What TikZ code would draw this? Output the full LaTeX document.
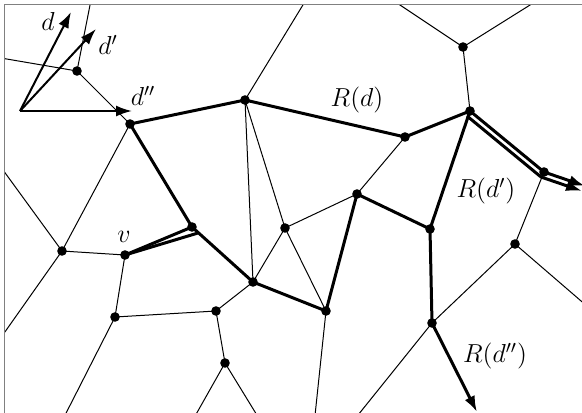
\RequirePackage{fix-cm}
\documentclass[tikz,border=0pt]{standalone}
\usetikzlibrary{arrows.meta}
\begin{document}
\begin{tikzpicture}[x=0.5pt,y=-0.5pt,font=\fontsize{13}{15}\selectfont,
  edge/.style={line width=0.5pt},
  pathline/.style={line width=1.5pt,line join=round},
  vec/.style={line width=1pt,-{Latex[length=8pt,width=5.5pt]}},
  rayarrow/.style={-{Latex[length=8pt,width=5.5pt]}},
  vert/.style={circle,fill,inner sep=0pt,minimum size=4.8pt},
  lbl/.style={inner sep=0pt}]
\useasboundingbox (0,0) rectangle (582,412);
\begin{scope}
\clip (4.5,4.5) rectangle (600,430);
% vertices
\node[vert] (A) at (77,71) {};
\node[vert] (B) at (130,124) {};
\node[vert] (C) at (245,100) {};
\node[vert] (D) at (463,47) {};
\node[vert] (E) at (470,111) {};
\node[vert] (F) at (405,137) {};
\node[vert] (G) at (544,172) {};
\node[vert] (H) at (430,229) {};
\node[vert] (I) at (515,244) {};
\node[vert] (J) at (432,323) {};
\node[vert] (K) at (192,227) {};
\node[vert] (V) at (125,255) {};
\node[vert] (L) at (62,251) {};
\node[vert] (M) at (285,228) {};
\node[vert] (N) at (357,194) {};
\node[vert] (O) at (253,282) {};
\node[vert] (P) at (326,311) {};
\node[vert] (Q) at (216,311) {};
\node[vert] (S) at (115,317) {};
\node[vert] (T) at (225,363) {};
% free ends
\coordinate (At) at (92,-5);
\coordinate (Al) at (-5,57);
\coordinate (Ll) at (-5,159);
\coordinate (Lb) at (-5,346);
\coordinate (Sb) at (60,425);
\coordinate (Tl) at (190,425);
\coordinate (Tr) at (263,425);
\coordinate (Pb) at (314,425);
\coordinate (Jb) at (350,425);
\coordinate (Ir) at (595,313);
\coordinate (Dl) at (385,-5);
\coordinate (Dr) at (546,-5);
\coordinate (Ct) at (309,-5);
\coordinate (KO) at (198,233);
\coordinate (Jout) at (477,412);
\coordinate (Gout) at (585,186);
\coordinate (E2) at (467,116);
\coordinate (G2) at (541,177);
\coordinate (Gout2) at (582,191);
\coordinate (o) at (20,111);
\coordinate (dt) at (71,12);
\coordinate (dpt) at (96,29);
\coordinate (dppt) at (132,111);
% thin edges
\draw[edge] (At) -- (A.center) -- (Al);
\draw[edge] (A.center) -- (B.center) -- (L.center);
\draw[edge] (Ll) -- (L.center) -- (Lb);
\draw[edge] (L.center) -- (V.center) -- (S.center) -- (Q.center) -- (O.center);
\draw[edge] (S.center) -- (Sb);
\draw[edge] (Q.center) -- (T.center);
\draw[edge] (Tl) -- (T.center) -- (Tr);
\draw[edge] (O.center) -- (C.center) -- (M.center) -- (O.center);
\draw[edge] (M.center) -- (P.center);
\draw[edge] (M.center) -- (N.center) -- (F.center);
\draw[edge] (C.center) -- (Ct);
\draw[edge] (Dl) -- (D.center) -- (Dr);
\draw[edge] (D.center) -- (E.center);
\draw[edge] (G.center) -- (I.center) -- (Ir);
\draw[edge] (I.center) -- (J.center) -- (Jb);
\draw[edge] (P.center) -- (Pb);
% thick paths
\draw[pathline] (B.center) -- (C.center) -- (F.center) -- (E.center);
\draw[pathline] (B.center) -- (K.center) -- (O.center) -- (P.center) -- (N.center) -- (H.center) -- (E.center);
\draw[pathline] (V.center) -- (K.center);
\draw[pathline] (V.center) -- (KO);
\draw[pathline] (H.center) -- (J.center);
\draw[pathline,rayarrow] (J.center) -- (Jout);
\draw[pathline,rayarrow] (E.center) -- (G.center) -- (Gout);
\draw[pathline,rayarrow] (E2) -- (G2) -- (Gout2);
% direction vectors
\draw[vec] (o) -- (dt);
\draw[vec] (o) -- (dpt);
\draw[vec] (o) -- (dppt);
% labels
\node[lbl] (ld) at (48,21) {$d$};
\node[lbl] (ldp) at (108,45) {$d'$};
\node[lbl] (ldpp) at (143,96) {$d''$};
\node[lbl] (lRd) at (357,100) {$R(d)$};
\node[lbl] (lRdp) at (486,191) {$R(d')$};
\node[lbl] (lRdpp) at (495,356) {$R(d'')$};
\node[lbl] (lv) at (124,237) {$v$};
\end{scope}
\draw[gray,line width=0.6pt] (4.5,430) -- (4.5,4.5) -- (600,4.5);
\end{tikzpicture}
\end{document}
